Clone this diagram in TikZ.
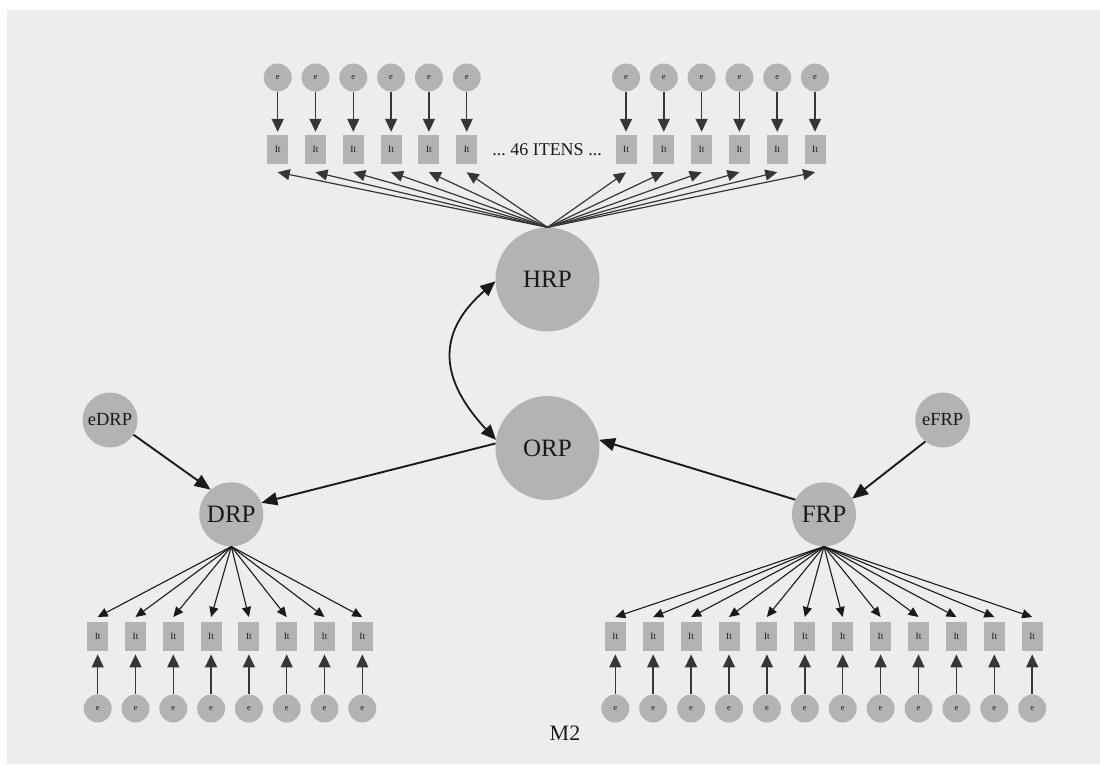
\documentclass[tikz,border=0pt]{standalone}
\usepackage{fontspec}
\setmainfont{Liberation Serif}
\usetikzlibrary{arrows.meta}
\definecolor{bg}{HTML}{EDEDED}
\definecolor{nodefill}{HTML}{B3B3B3}
\definecolor{ink}{HTML}{1A1A1A}
\definecolor{errink}{HTML}{363636}
\begin{document}
\begin{tikzpicture}[x=1pt,y=-1pt,
  bignode/.style={circle,fill=nodefill,inner sep=0pt,minimum size=104pt,text=ink,
    font=\fontsize{25}{25}\selectfont},
  midnode/.style={circle,fill=nodefill,inner sep=0pt,minimum size=64pt,text=ink,
    font=\fontsize{25}{25}\selectfont},
  resnode/.style={circle,fill=nodefill,inner sep=0pt,minimum size=55pt,text=ink,
    font=\fontsize{18.5}{18.5}\selectfont},
  errnode/.style={circle,fill=nodefill,inner sep=0pt,minimum size=28pt,text=ink,
    font=\fontsize{8.5}{8.5}\selectfont},
  itembox/.style={rectangle,fill=nodefill,inner sep=0pt,minimum width=21pt,
    minimum height=29pt,text=ink,font=\fontsize{9.5}{9.5}\selectfont},
  mainarrow/.style={draw=ink,line width=1.9pt,-{Triangle[length=16pt,width=13pt]}},
  errarrow/.style={draw=errink,line width=1.5pt,shorten >=3pt,
    -{Triangle[length=13pt,width=12pt]}},
  toparrow/.style={draw=errink,line width=1.2pt,-{Triangle[length=12pt,width=11pt]}},
  fanarrow/.style={draw=ink,line width=1.1pt,-{Triangle[length=10pt,width=9pt]}},
  corrarrow/.style={draw=ink,line width=1.8pt,
    {Triangle[length=15pt,width=13pt]}-{Triangle[length=15pt,width=13pt]}}
]
\useasboundingbox (0,0) rectangle (1100,764);
\fill[white] (0,0) rectangle (1100,764);
\fill[bg] (7,10) rectangle (1100,764);

% latent factors
\node[bignode] (HRP) at (547.5,279.5) {HRP};
\node[bignode] (ORP) at (547.5,448) {ORP};
\node[midnode] (DRP) at (231.3,514.3) {DRP};
\node[midnode] (FRP) at (824,514.3) {FRP};
\node[resnode] (eDRP) at (110,420) {eDRP};
\node[resnode] (eFRP) at (942.7,420) {eFRP};

% HRP items (two visible blocks of six)
\foreach \i in {0,...,5} {
  \pgfmathsetmacro\xa{277.7+37.8*\i}
  \pgfmathsetmacro\xb{626+37.8*\i}
  \node[itembox] (tl\i) at (\xa,149.5) {It};
  \node[errnode] (etl\i) at (\xa,77.5) {e};
  \node[itembox] (tr\i) at (\xb,149.5) {It};
  \node[errnode] (etr\i) at (\xb,77.5) {e};
  \draw[errarrow] (etl\i) -- (tl\i);
  \draw[errarrow] (etr\i) -- (tr\i);
  \draw[toparrow] (HRP.north) -- ([yshift=-8pt]tl\i.south);
  \draw[toparrow] (HRP.north) -- ([yshift=-8pt]tr\i.south);
}
\node[text=ink,font=\fontsize{18}{18}\selectfont] (itens) at (547,150) {...\ 46 ITENS\ ...};

% DRP items
\foreach \i in {0,...,7} {
  \pgfmathsetmacro\xa{97.7+37.8*\i}
  \node[itembox] (d\i) at (\xa,636.7) {It};
  \node[errnode] (ed\i) at (\xa,708.5) {e};
  \draw[errarrow] (ed\i) -- (d\i);
  \draw[fanarrow] (DRP.south) -- ([yshift=5pt]d\i.north);
}

% FRP items
\foreach \i in {0,...,11} {
  \pgfmathsetmacro\xa{615.3+37.9*\i}
  \node[itembox] (f\i) at (\xa,636.7) {It};
  \node[errnode] (ef\i) at (\xa,708.5) {e};
  \draw[errarrow] (ef\i) -- (f\i);
  \draw[fanarrow] (FRP.south) -- ([yshift=5pt]f\i.north);
}

% structural paths
\draw[mainarrow] (eDRP.-32) -- (DRP.130);
\draw[mainarrow] (eFRP.231) -- (FRP.29);
\draw[mainarrow] (ORP.175) -- (DRP.21);
\draw[mainarrow] (FRP.153) -- (ORP.9);
\draw[corrarrow] (HRP.182) to[out=221,in=133,looseness=1.3] (ORP.171);

\node[text=ink,font=\fontsize{22}{22}\selectfont] (title) at (565,733) {M2};
\end{tikzpicture}
\end{document}
